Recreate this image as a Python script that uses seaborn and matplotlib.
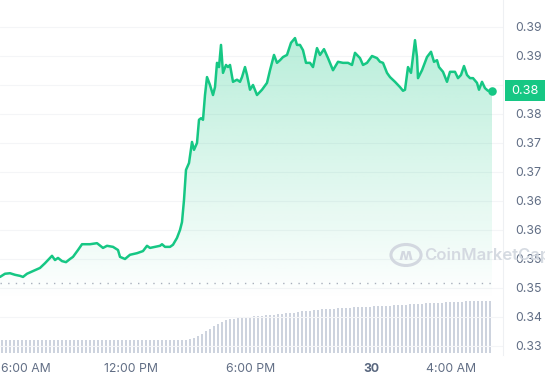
import numpy as np
import pandas as pd
import matplotlib
matplotlib.use("Agg")
import matplotlib.pyplot as plt
import matplotlib.transforms as mtransforms
from matplotlib.patches import Rectangle, Circle
import seaborn as sns

# ---------------- data ----------------
START_HOUR = 5.45  # chart starts at 05:27
# minutes since start
times = [0, 15, 30, 45, 60, 69, 81, 99, 120, 135, 150, 156, 165, 174, 186, 198, 210, 219, 234, 246,
         270, 291, 309, 321, 339, 354, 360, 375, 390, 411, 429, 441, 450, 465, 480, 486, 495, 510, 519, 531,
         540, 546, 552, 558, 567, 576, 582, 591, 597, 603, 609, 615, 621, 630, 639, 645, 651, 657, 663, 669,
         678, 684, 690, 699, 711, 720, 726, 735, 741, 750, 759, 771, 786, 801, 810, 822, 831, 840, 849, 861,
         873, 885, 891, 900, 909, 918, 930, 939, 951, 960, 972, 984, 999, 1014, 1029, 1044, 1056, 1065, 1080, 1089,
         1101, 1116, 1131, 1140, 1149, 1161, 1170, 1185, 1200, 1209, 1215, 1224, 1233, 1245, 1251, 1254, 1266, 1281, 1293, 1302,
         1311, 1317, 1329, 1341, 1350, 1365, 1374, 1383, 1392, 1401, 1410, 1419, 1431, 1437, 1446, 1455, 1464, 1476]
prices = [0.3431, 0.3437, 0.3438, 0.3435, 0.3433, 0.3431, 0.3437, 0.3442, 0.3448, 0.3457, 0.3467, 0.3471, 0.3463, 0.3467, 0.3461, 0.3459, 0.3465, 0.3469, 0.3482, 0.3493,
          0.3493, 0.3495, 0.3486, 0.3490, 0.3488, 0.3482, 0.3469, 0.3465, 0.3473, 0.3476, 0.3480, 0.3490, 0.3486, 0.3488, 0.3490, 0.3493, 0.3488, 0.3488, 0.3492, 0.3505,
          0.3520, 0.3535, 0.3577, 0.3634, 0.3647, 0.3687, 0.3672, 0.3685, 0.3729, 0.3732, 0.3729, 0.3776, 0.3810, 0.3795, 0.3776, 0.3791, 0.3837, 0.3829, 0.3871, 0.3818,
          0.3833, 0.3829, 0.3833, 0.3801, 0.3805, 0.3801, 0.3810, 0.3829, 0.3814, 0.3786, 0.3795, 0.3776, 0.3786, 0.3799, 0.3823, 0.3852, 0.3837, 0.3842, 0.3848, 0.3852,
          0.3875, 0.3884, 0.3871, 0.3871, 0.3861, 0.3837, 0.3837, 0.3829, 0.3865, 0.3852, 0.3863, 0.3846, 0.3823, 0.3839, 0.3837, 0.3837, 0.3833, 0.3856, 0.3846, 0.3833,
          0.3837, 0.3850, 0.3846, 0.3839, 0.3837, 0.3818, 0.3810, 0.3801, 0.3791, 0.3784, 0.3786, 0.3829, 0.3818, 0.3880, 0.3848, 0.3808, 0.3823, 0.3848, 0.3858, 0.3839,
          0.3842, 0.3829, 0.3820, 0.3801, 0.3820, 0.3820, 0.3808, 0.3814, 0.3831, 0.3814, 0.3808, 0.3808, 0.3799, 0.3786, 0.3801, 0.3789, 0.3784, 0.3784]

VOL_INTERVAL = 12  # minutes per volume bar
volume = [13, 13, 13, 13, 13, 13, 13, 13, 13, 13, 13, 13, 13, 13, 13, 13, 13, 13, 13, 13,
          13, 13, 13, 13, 13, 13, 13, 13, 13, 13, 13, 13, 13, 13, 13, 13, 13, 13, 13, 13,
          13, 13, 13, 13, 13, 13, 13, 14, 15, 17, 19, 22, 24, 27, 29, 31, 33, 34, 34, 35,
          35, 36, 36, 37, 37, 37, 38, 38, 38, 39, 39, 40, 40, 40, 41, 42, 42, 42, 43, 43,
          44, 44, 44, 44, 45, 45, 45, 45, 46, 46, 46, 46, 46, 47, 47, 47, 47, 47, 48, 48,
          48, 48, 49, 49, 49, 49, 50, 50, 50, 50, 50, 51, 51, 51, 51, 51, 52, 52, 52, 52,
          52, 52, 52]

open_price = 0.3420
current_label = "0.38"

ytick_values = [0.3300, 0.3355, 0.3410, 0.3465, 0.3520, 0.3575, 0.3630, 0.3685, 0.3740, 0.3795, 0.3850, 0.3905]
ytick_labels = ["0.33", "0.34", "0.35", "0.35", "0.36", "0.36", "0.37", "0.37", "0.38", "0.38", "0.39", "0.39"]
xtick_hours = [6, 12, 18, 24, 28]
xtick_labels = ["6:00 AM", "12:00 PM", "6:00 PM", "30", "4:00 AM"]

GREEN = "#16c784"
GREY_TXT = "#616e85"

# ---------------- style ----------------
sns.set_theme(style="white")
plt.rcParams["font.family"] = ["Inter", "DejaVu Sans"]

df = pd.DataFrame({"t": times, "price": prices})
vol_t = np.arange(len(volume)) * VOL_INTERVAL + VOL_INTERVAL / 2

fig = plt.figure(figsize=(5.45, 3.8), dpi=100)
W, H = 545, 380
ax = fig.add_axes([0, 25 / H, 503 / W, 355 / H])
axv = ax.twinx()
axv.set_zorder(0)
ax.set_zorder(1)
ax.patch.set_visible(False)

YMIN, YMAX = 0.32829, 0.39562
XMAX = 1509

# volume bars
axv.bar(vol_t, volume, width=VOL_INTERVAL * 0.62, color="#cdd3de", linewidth=0)
axv.set_ylim(-2, 353)
axv.set_yticks([])
for s in axv.spines.values():
    s.set_visible(False)

# gridlines
for v in ytick_values:
    ax.axhline(v, color="#f4f5f7", lw=0.8, zorder=0)

# gradient fill under line
fill_bottom = YMAX - 0.00018966 * 300
poly = ax.fill_between(df["t"], df["price"], fill_bottom, color="none", lw=0)
path = poly.get_paths()[0]
top = max(prices)
n = 256
alpha = np.linspace(0.0, 0.30, n).reshape(-1, 1)
rgb = np.array(matplotlib.colors.to_rgb(GREEN))
img = np.zeros((n, 1, 4))
img[..., :3] = rgb
img[..., 3] = alpha
im = ax.imshow(img, extent=[0, times[-1], fill_bottom, top], origin="lower",
               aspect="auto", zorder=1, interpolation="bilinear")
im.set_clip_path(path, transform=ax.transData)

# opening price dotted line
ax.axhline(open_price, xmin=0, xmax=times[-1] / XMAX, color="#a9b0bc", lw=1.0,
           linestyle=(0, (1, 4.5)), zorder=2)

# price line
sns.lineplot(data=df, x="t", y="price", ax=ax, color=GREEN, lw=1.8, zorder=3)
sns.scatterplot(x=[times[-1]], y=[prices[-1]], ax=ax, color=GREEN, s=38, linewidth=0, zorder=4)

ax.set_xlim(0, XMAX)
ax.set_ylim(YMIN, YMAX)
ax.set_xlabel("")
ax.set_ylabel("")

# y ticks right
ax.yaxis.tick_right()
ax.set_yticks(ytick_values)
ax.set_yticklabels(ytick_labels)
ax.tick_params(axis="y", length=0, pad=9, labelsize=8.8, labelcolor=GREY_TXT)

# x ticks
xt = [(h - START_HOUR) * 60 for h in xtick_hours]
ax.set_xticks(xt)
ax.set_xticklabels(xtick_labels)
ax.tick_params(axis="x", length=0, pad=6, labelsize=8.8, labelcolor=GREY_TXT)
labs = ax.get_xticklabels()
labs[0].set_horizontalalignment("left")
labs[0].set_transform(labs[0].get_transform() +
                      mtransforms.ScaledTranslation(-10 / 100, 0, fig.dpi_scale_trans))
labs[3].set_fontweight("bold")
labs[3].set_color("#58667e")

for name, s in ax.spines.items():
    s.set_visible(False)
ax.spines["right"].set_visible(True)
ax.spines["right"].set_color("#eef0f3")
ax.spines["right"].set_linewidth(0.8)

# current price badge
fig.canvas.draw()
_, yd = ax.transData.transform((0, prices[-1]))
yf = yd / fig.dpi / 3.8
bh = 21 / H
fig.patches.append(Rectangle((505 / W, yf - bh / 2), 40 / W, bh, transform=fig.transFigure,
                             facecolor=GREEN, edgecolor="none", zorder=5))
fig.text(525 / W, yf, current_label, color="white", fontsize=9.2, ha="center", va="center",
         zorder=6)

# watermark
fig.patches.append(Circle((406 / W, 1 - 255 / H), 10.5 / H, transform=fig.transFigure,
                          facecolor="none", edgecolor="#d3d8e0", lw=2.2, zorder=5))
fig.text(406 / W, 1 - 256 / H, "\u028d", color="#d3d8e0", fontsize=11, ha="center", va="center",
         fontweight="bold", zorder=5, family=["DejaVu Sans"])
fig.text(424 / W, 1 - 255 / H, "CoinMarketCap", color="#d3d8e0", fontsize=12, ha="left",
         va="center", fontweight="semibold", zorder=5, alpha=0.95)

fig.savefig("out.png", dpi=100)
